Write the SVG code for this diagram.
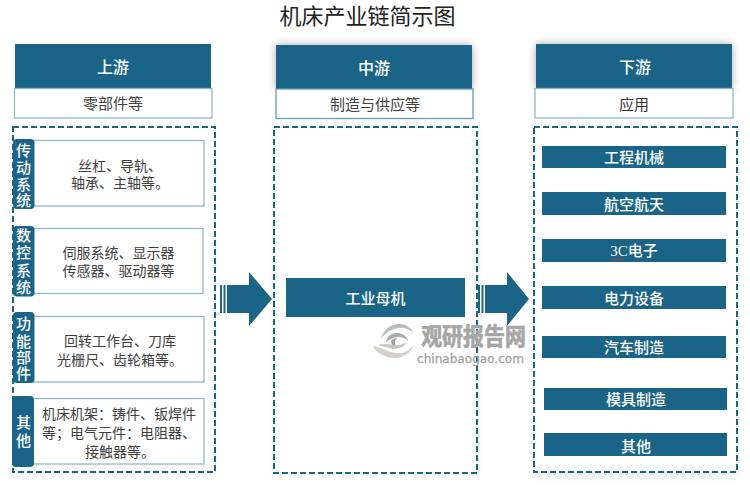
<svg xmlns="http://www.w3.org/2000/svg" width="750" height="488" viewBox="0 0 750 488">
<style>
text{font-family:"Liberation Serif","Noto Sans CJK SC",serif;text-anchor:middle}
.h{fill:#1a6487}
.w{fill:#fff;font-size:15px;font-weight:500}
.s{fill:#fff;stroke:#8fb8cb;stroke-width:1.3}
.t{fill:#404040;font-size:14px}
.u{fill:#404040;font-size:15px}
.d{fill:#fff;stroke:#1a6487;stroke-width:2;stroke-dasharray:6 3}
.v{fill:#fff;font-size:15px;font-weight:500}
.g{fill:#fff;font-size:16px;font-weight:500}
</style>
<defs>
<filter id="sh" x="-15%" y="-40%" width="130%" height="180%"><feGaussianBlur stdDeviation="4"/></filter>
</defs>
<rect width="750" height="488" fill="#fff"/>
<text id="title" x="367.500" y="24" font-size="22" fill="#222">机床产业链简示图</text>
<g id="shadows" fill="#000">
<rect x="276" y="45" width="196" height="44" opacity=".35" filter="url(#sh)"/>
<rect x="536" y="44" width="196" height="44" opacity=".35" filter="url(#sh)"/>
<rect x="274" y="127" width="203" height="346" opacity=".07" filter="url(#sh)"/>
<rect x="534" y="127" width="203" height="350" opacity=".07" filter="url(#sh)"/>
<rect x="286" y="278" width="179" height="39" opacity=".25" filter="url(#sh)"/>
<rect x="542" y="146" width="184" height="22" opacity=".25" filter="url(#sh)"/>
</g>
<g id="upstream">
<rect class="d" x="13" y="127" width="202" height="345"/>
<rect class="h" x="15" y="44" width="196" height="44"/>
<text class="g" x="113" y="73">上游</text>
<rect class="s" x="14.500" y="88.500" width="197.500" height="29.500"/>
<text class="u" x="113" y="109">零部件等</text>
</g>
<g id="row-transmission">
<rect class="s" x="30" y="140.500" width="174" height="65.500"/>
<rect class="h" x="13" y="139" width="21.500" height="70" rx="4"/>
<text class="v" x="23.500" y="156">传</text><text class="v" x="23.500" y="173">动</text><text class="v" x="23.500" y="190">系</text><text class="v" x="23.500" y="206">统</text>
<text class="t" x="120" y="171">丝杠、导轨、</text>
<text class="t" x="120" y="188">轴承、主轴等。</text>
</g>
<g id="row-cnc">
<rect class="s" x="30" y="228.500" width="173" height="65"/>
<rect class="h" x="13" y="226" width="21.500" height="70.500" rx="4"/>
<text class="v" x="23.500" y="241">数</text><text class="v" x="23.500" y="258">控</text><text class="v" x="23.500" y="276">系</text><text class="v" x="23.500" y="293">统</text>
<text class="t" x="118.500" y="258">伺服系统、显示器</text>
<text class="t" x="118.500" y="276">传感器、驱动器等</text>
</g>
<g id="row-function">
<rect class="s" x="30" y="316.500" width="174" height="65.500"/>
<rect class="h" x="13" y="312" width="21.500" height="71" rx="4"/>
<text class="v" x="23.500" y="329">功</text><text class="v" x="23.500" y="347">能</text><text class="v" x="23.500" y="363">部</text><text class="v" x="23.500" y="379">件</text>
<text class="t" x="120" y="346">回转工作台、刀库</text>
<text class="t" x="120" y="365">光栅尺、齿轮箱等。</text>
</g>
<g id="row-other">
<rect class="s" x="30" y="398.500" width="174" height="65.500"/>
<rect class="h" x="12" y="396" width="22" height="71" rx="4"/>
<text class="v" x="23.500" y="428">其</text><text class="v" x="23.500" y="446">他</text>
<text class="t" x="119" y="419">机床机架：铸件、钣焊件</text>
<text class="t" x="119" y="438">等；电气元件：电阻器、</text>
<text class="t" x="120" y="457">接触器等。</text>
</g>
<g id="midstream">
<rect class="d" x="274" y="127" width="203" height="346"/>
<rect class="h" x="276" y="45" width="196" height="44"/>
<text class="g" x="374" y="74">中游</text>
<rect class="s" x="276" y="89" width="197" height="29.500" style="stroke:#5f9ab8"/>
<text class="u" x="375" y="110">制造与供应等</text>
</g>
<g id="downstream">
<rect class="d" x="534" y="127" width="203" height="345"/>
<rect class="h" x="536" y="44" width="196" height="44"/>
<text class="g" x="635" y="73">下游</text>
<rect class="s" x="535" y="88.500" width="198" height="29.500"/>
<text class="u" x="634" y="110" style="fill:#333">应用</text>
</g>
<g id="machine"><rect class="h" x="286" y="278" width="179" height="39"/><text class="w" x="375.500" y="304">工业母机</text></g>
<g id="d1"><rect class="h" x="542" y="146" width="184" height="22"/><text class="w" x="634" y="163">工程机械</text></g>
<g id="d2"><rect class="h" x="542" y="192" width="184" height="23"/><text class="w" x="634" y="210">航空航天</text></g>
<g id="d3"><rect class="h" x="542" y="239" width="184" height="23"/><text class="w" x="634" y="256">3C电子</text><path d="M612 259.500q1-1.500 2 0t2 0 2 0 2 0 2 0 2 0" fill="none" stroke="#d33" stroke-width=".8"/></g>
<g id="d4"><rect class="h" x="542" y="286" width="184" height="23"/><text class="w" x="634" y="304">电力设备</text></g>
<g id="d5"><rect class="h" x="542" y="336" width="184" height="22"/><text class="w" x="634" y="353">汽车制造</text></g>
<g id="d6"><rect class="h" x="544" y="388" width="183" height="22"/><text class="w" x="636" y="405">模具制造</text></g>
<g id="d7"><rect class="h" x="544" y="433" width="183" height="23"/><text class="w" x="636" y="452">其他</text></g>
<g id="connectors" fill="#1a6487">
<path d="M220 285h2v28h-2zM223.500 285h2v28h-2zM227 285h22v-13l23 27-23 27v-13h-22z"/>
<path d="M478 285h2v28h-2zM481.500 285h2v28h-2zM485 285h22v-13l22 27-22 27v-13h-22z"/>
</g>
<g id="watermark">
<path d="M373 346c3 7 14 13 24 12 8-1 14-6 17-13-5 6-11 9-18 8-9-1-15-6-23-7z" fill="#d2d0c9"/>
<path d="M378 345c4 1 10 3 15 4 6 0 11-2 14-7-3 2-6 3-10 3-7 0-13-2-19 0z" fill="#c8c7c0"/>
<path d="M381 338c3-9 11-15 19-14 6 0 11 4 14 9-5-4-10-6-16-5-7 1-12 5-17 10z" fill="#b9bcbc"/>
<path d="M386 342c1-6 7-10 13-9 5 1 8 4 9 8-3-3-6-4-9-4-5 0-9 2-13 5z" fill="#a9adad"/>
<path d="M391 341c1-2 4-3 6-3l-2 3v4h-3z" fill="#a0a0a0"/>
<text transform="translate(473.500 345) scale(.91 1.04)" font-size="23" font-weight="700" fill="#a6a6a6" stroke="#a6a6a6" stroke-width=".7" style="font-family:'Noto Sans CJK SC',sans-serif">观研报告网</text>
<text x="470.500" y="363" font-size="12.500" fill="#a0a0a0" stroke="#a0a0a0" stroke-width=".25" style="font-family:'DejaVu Sans',sans-serif" textLength="107" lengthAdjust="spacingAndGlyphs">chinabaogao.com</text>
</g>
</svg>
